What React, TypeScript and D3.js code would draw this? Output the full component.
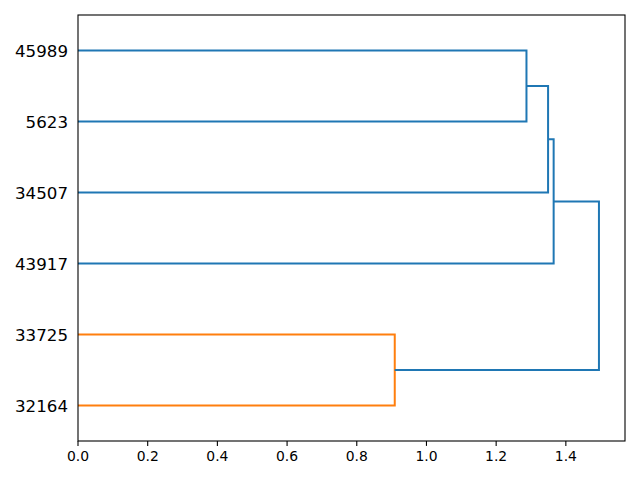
import React from "react";
import * as d3 from "d3";

// Leaves, bottom to top (leaf positions 5, 15, 25, ...)
const leafLabels = ["32164", "33725", "43917", "34507", "5623", "45989"];
// Linkage rows: children indices (0..5 leaves, 6+ clusters), height, colour
const mergeLeft = [4, 3, 2, 0, 9];
const mergeRight = [5, 6, 7, 1, 8];
const mergeHeight = [1.287, 1.349, 1.365, 0.909, 1.495];
const mergeColor = ["#1f77b4", "#1f77b4", "#1f77b4", "#ff7f0e", "#1f77b4"];
const xTicks = [0, 0.2, 0.4, 0.6, 0.8, 1.0, 1.2, 1.4];

const W = 640, H = 480;
const M = { left: 78, top: 15, right: 625, bottom: 441 };

export default function App() {
  const maxH = d3.max(mergeHeight) as number;
  const x = d3.scaleLinear().domain([0, maxH * 1.05]).range([M.left, M.right]);
  const y = d3.scaleLinear().domain([0, leafLabels.length * 10]).range([M.bottom, M.top]);

  const n = leafLabels.length;
  const posY: number[] = leafLabels.map((_, i) => 5 + i * 10);
  const posX: number[] = leafLabels.map(() => 0);
  const links: { d: string; color: string }[] = [];
  mergeLeft.forEach((a, k) => {
    const b = mergeRight[k];
    const h = mergeHeight[k];
    const ya = posY[a], yb = posY[b];
    const p = d3.path();
    p.moveTo(x(posX[a]), y(ya));
    p.lineTo(x(h), y(ya));
    p.lineTo(x(h), y(yb));
    p.lineTo(x(posX[b]), y(yb));
    links.push({ d: p.toString(), color: mergeColor[k] });
    posY[n + k] = (ya + yb) / 2;
    posX[n + k] = h;
  });

  const font = "DejaVu Sans, sans-serif";
  return (
    <svg width={W} height={H} style={{ position: "absolute", left: 0, top: 0, background: "#fff" }}>
      <rect x={0} y={0} width={W} height={H} fill="#fff" />
      <g>
        {links.map((l, i) => (
          <path key={i} d={l.d} fill="none" stroke={l.color} strokeWidth={2} />
        ))}
      </g>
      <rect x={M.left} y={M.top} width={M.right - M.left} height={M.bottom - M.top}
        fill="none" stroke="#000" strokeWidth={1.1} />
      {xTicks.map((t) => (
        <g key={t}>
          <line x1={x(t)} x2={x(t)} y1={M.bottom} y2={M.bottom + 4.9} stroke="#000" strokeWidth={1.1} />
          <text x={x(t)} y={M.bottom + 9.7} dy="0.76em" textAnchor="middle" fontFamily={font} fontSize={13.9} fill="#000">
            {d3.format(".1f")(t)}
          </text>
        </g>
      ))}
      {leafLabels.map((lab, i) => (
        <text key={lab} x={M.left - 10} y={y(5 + i * 10)} dy="0.36em" textAnchor="end" fontFamily={font} fontSize={16.67} fill="#000">
          {lab}
        </text>
      ))}
    </svg>
  );
}
